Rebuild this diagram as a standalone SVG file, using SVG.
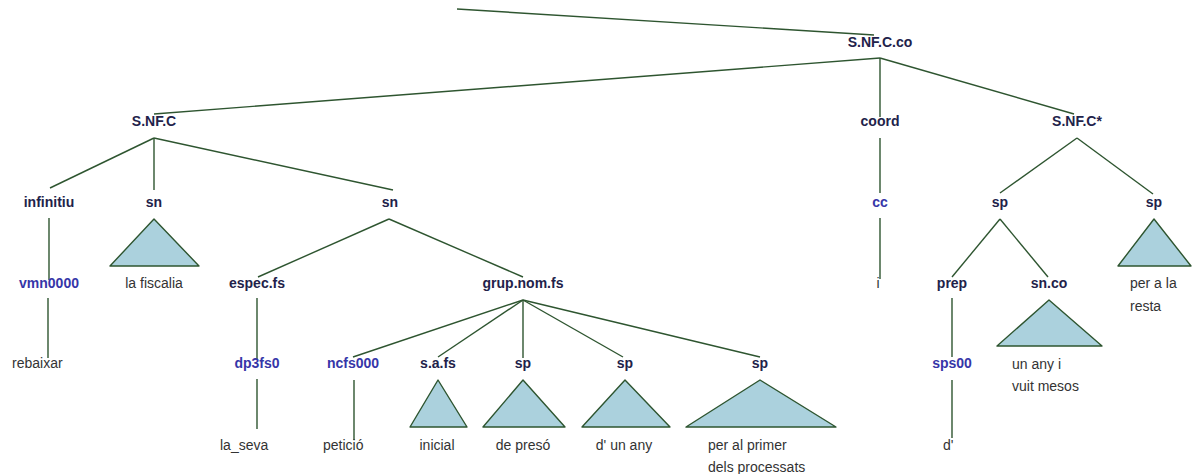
<svg xmlns="http://www.w3.org/2000/svg" width="1195" height="474" viewBox="0 0 1195 474">
<style>
.n{font-family:"Liberation Sans",Arial,sans-serif;font-size:14px;font-weight:bold;fill:#22224a;text-anchor:middle}
.p{font-family:"Liberation Sans",Arial,sans-serif;font-size:14px;font-weight:bold;fill:#3636a8;text-anchor:middle}
.w{font-family:"Liberation Sans",Arial,sans-serif;font-size:14px;fill:#333;text-anchor:start}
.wc{font-family:"Liberation Sans",Arial,sans-serif;font-size:14px;fill:#333;text-anchor:middle}
.l{stroke:#2e5530;stroke-width:1.4;fill:none}
.t{fill:#abd1dd;stroke:#2e5530;stroke-width:1.4;stroke-linejoin:round}
</style>
<rect width="1195" height="474" fill="#fff"/>
<g id="connectors">
<line class="l" x1="457" y1="9" x2="874" y2="35"/>
<line class="l" x1="880" y1="58" x2="154" y2="114"/>
<line class="l" x1="880" y1="58" x2="880" y2="117"/>
<line class="l" x1="880" y1="58" x2="1074" y2="114"/>
<line class="l" x1="154" y1="138" x2="50" y2="188"/>
<line class="l" x1="154" y1="138" x2="154" y2="190"/>
<line class="l" x1="154" y1="138" x2="393" y2="190"/>
<line class="l" x1="880" y1="138" x2="880" y2="193"/>
<line class="l" x1="1077" y1="138" x2="1000" y2="193"/>
<line class="l" x1="1077" y1="138" x2="1153" y2="194"/>
<line class="l" x1="49" y1="218" x2="49" y2="280"/>
<line class="l" x1="389" y1="219" x2="258" y2="277"/>
<line class="l" x1="389" y1="219" x2="523" y2="277"/>
<line class="l" x1="880" y1="218" x2="880" y2="279"/>
<line class="l" x1="1000" y1="219" x2="952" y2="277"/>
<line class="l" x1="1000" y1="219" x2="1048" y2="277"/>
<line class="l" x1="48" y1="298" x2="48" y2="358"/>
<line class="l" x1="257" y1="298" x2="257" y2="359"/>
<line class="l" x1="523" y1="300" x2="353" y2="357"/>
<line class="l" x1="523" y1="300" x2="438" y2="357"/>
<line class="l" x1="523" y1="300" x2="523" y2="358"/>
<line class="l" x1="523" y1="300" x2="623" y2="357"/>
<line class="l" x1="523" y1="300" x2="760" y2="357"/>
<line class="l" x1="952" y1="298" x2="952" y2="357"/>
<line class="l" x1="257" y1="379" x2="257" y2="429"/>
<line class="l" x1="354" y1="380" x2="354" y2="440"/>
<line class="l" x1="952" y1="380" x2="952" y2="438"/>
</g>
<g id="n-snfcco"><text class="n" x="880" y="47">S.NF.C.co</text></g>
<g id="n-snfc"><text class="n" x="154" y="126">S.NF.C</text></g>
<g id="n-coord"><text class="n" x="880" y="126">coord</text></g>
<g id="n-snfcstar"><text class="n" x="1077" y="126">S.NF.C*</text></g>
<g id="n-infinitiu"><text class="n" x="49" y="207">infinitiu</text></g>
<g id="n-sn1"><text class="n" x="154" y="207">sn</text>
<polygon class="t" points="154,219 110,266 199,266"/>
<text class="wc" x="154" y="288">la fiscalia</text></g>
<g id="n-sn2"><text class="n" x="390" y="207">sn</text></g>
<g id="n-cc"><text class="p" x="880" y="207">cc</text></g>
<g id="n-sp1"><text class="n" x="1000" y="207">sp</text></g>
<g id="n-sp2"><text class="n" x="1154" y="207">sp</text>
<polygon class="t" points="1154,219 1118,266 1191,266"/>
<text class="w" x="1130" y="288">per a la</text>
<text class="w" x="1130" y="311">resta</text></g>
<g id="n-vmn"><text class="p" x="49" y="288">vmn0000</text></g>
<g id="n-espec"><text class="n" x="257" y="288">espec.fs</text></g>
<g id="n-grup"><text class="n" x="523" y="288">grup.nom.fs</text></g>
<g id="n-i"><text class="wc" x="878" y="288">i</text></g>
<g id="n-prep"><text class="n" x="952" y="288">prep</text></g>
<g id="n-snco"><text class="n" x="1049" y="288">sn.co</text>
<polygon class="t" points="1049,300 997,346 1102,346"/>
<text class="w" x="1012" y="369">un any i</text>
<text class="w" x="1012" y="391">vuit mesos</text></g>
<g id="n-rebaixar"><text class="w" x="12" y="368">rebaixar</text></g>
<g id="n-dp3fs0"><text class="p" x="257" y="368">dp3fs0</text></g>
<g id="n-ncfs000"><text class="p" x="353" y="368">ncfs000</text></g>
<g id="n-safs"><text class="n" x="438" y="368">s.a.fs</text>
<polygon class="t" points="438,380 410,427 467,427"/>
<text class="wc" x="437" y="450">inicial</text></g>
<g id="n-sp3"><text class="n" x="523" y="368">sp</text>
<polygon class="t" points="523,380 483,427 565,427"/>
<text class="wc" x="523" y="450">de presó</text></g>
<g id="n-sp4"><text class="n" x="625" y="368">sp</text>
<polygon class="t" points="625,380 582,427 670,427"/>
<text class="wc" x="624" y="450">d' un any</text></g>
<g id="n-sp5"><text class="n" x="760" y="368">sp</text>
<polygon class="t" points="760,380 686,427 836,427"/>
<text class="w" x="708" y="450">per al primer</text>
<text class="w" x="708" y="472">dels processats</text></g>
<g id="n-sps00"><text class="p" x="952" y="368">sps00</text></g>
<g id="n-laseva"><text class="w" x="220" y="450">la_seva</text></g>
<g id="n-peticio"><text class="w" x="323" y="450">petició</text></g>
<g id="n-d"><text class="w" x="943" y="450">d'</text></g>
</svg>
